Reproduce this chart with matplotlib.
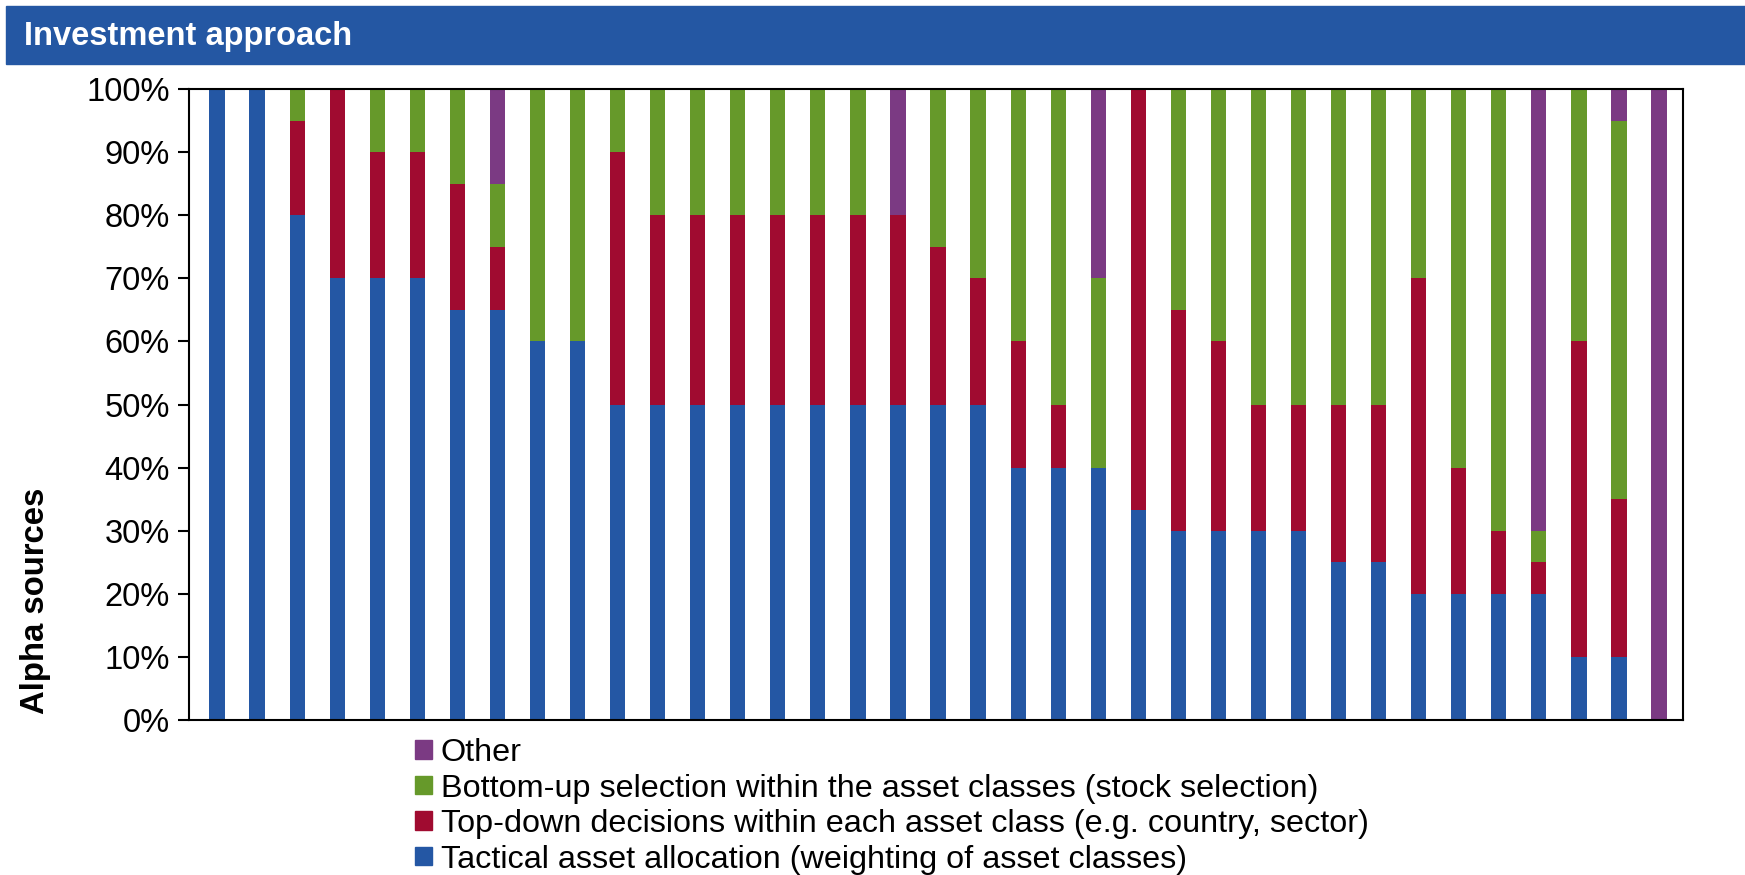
import numpy as np
import matplotlib
matplotlib.use("Agg")
import matplotlib.pyplot as plt
from matplotlib.patches import Rectangle, Patch

plt.rcParams["font.family"] = ["Liberation Sans", "DejaVu Sans"]

# Alpha-Quellen je Manager (Anteile in %)
tactical = [100, 100, 80, 70, 70, 70, 65, 65, 60, 60, 50, 50, 50, 50, 50, 50, 50, 50, 50,
            50, 40, 40, 40, 33.3, 30, 30, 30, 30, 25, 25, 20, 20, 20, 20, 10, 10, 0]
topdown = [0, 0, 15, 30, 20, 20, 20, 10, 0, 0, 40, 30, 30, 30, 30, 30, 30, 30, 25,
           20, 20, 10, 0, 66.7, 35, 30, 20, 20, 25, 25, 50, 20, 10, 5, 50, 25, 0]
bottomup = [0, 0, 5, 0, 10, 10, 15, 10, 40, 40, 10, 20, 20, 20, 20, 20, 20, 0, 25,
            30, 40, 50, 30, 0, 35, 40, 50, 50, 50, 50, 30, 60, 70, 5, 40, 60, 0]
other = [0, 0, 0, 0, 0, 0, 0, 15, 0, 0, 0, 0, 0, 0, 0, 0, 0, 20, 0,
         0, 0, 0, 30, 0, 0, 0, 0, 0, 0, 0, 0, 0, 0, 70, 0, 5, 100]

series_labels = ["Tactical asset allocation (weighting of asset classes)",
                 "Top-down decisions within each asset class (e.g. country, sector)",
                 "Bottom-up selection within the asset classes (stock selection)",
                 "Other"]
colors = ["#2457A4", "#A00B30", "#66992A", "#7B3A83"]

fig = plt.figure(figsize=(17.45, 8.75), dpi=100)
ax = fig.add_axes([0.1083, 0.1771, 0.8562, 0.7212])

x = np.arange(len(tactical))
bottom = np.zeros(len(x))
for vals, col in zip([tactical, topdown, bottomup, other], colors):
    vals = np.array(vals, dtype=float)
    ax.bar(x, vals, 0.38, bottom=bottom, color=col, edgecolor="none")
    bottom += vals

ax.set_xlim(-0.7, len(x) - 0.4)
ax.set_ylim(0, 100)
ax.set_yticks(np.arange(0, 101, 10))
ax.set_yticklabels([f"{v}%" for v in range(0, 101, 10)], fontsize=23.5)
ax.set_xticks([])
ax.tick_params(axis="y", direction="out", length=8, width=1.5, pad=6)
for s in ax.spines.values():
    s.set_linewidth(1.5)
    s.set_color("black")

# Titelbalken
fig.patches.append(Rectangle((6 / 1745, 1 - 64 / 875), 1, 58 / 875,
                             transform=fig.transFigure, color="#2457A3", zorder=0))
fig.text(24 / 1745, 1 - 37 / 875, "Investment approach", color="white",
         fontsize=23.5, fontweight="bold", va="center", ha="left")

fig.text(36 / 1745, 1 - 601 / 875, "Alpha sources", rotation=90, fontsize=23.7,
         fontweight="bold", ha="center", va="center")

handles = [Patch(color=c, label=l) for c, l in zip(colors, series_labels)][::-1]
fig.legend(handles=handles, loc="upper left", bbox_to_anchor=(415 / 1745, 1 - 738 / 875),
           frameon=False, fontsize=23.3, handlelength=0.52, handleheight=0.52,
           handletextpad=0.28, labelspacing=0.17, borderpad=0, borderaxespad=0)

fig.savefig("out.png", dpi=100)
